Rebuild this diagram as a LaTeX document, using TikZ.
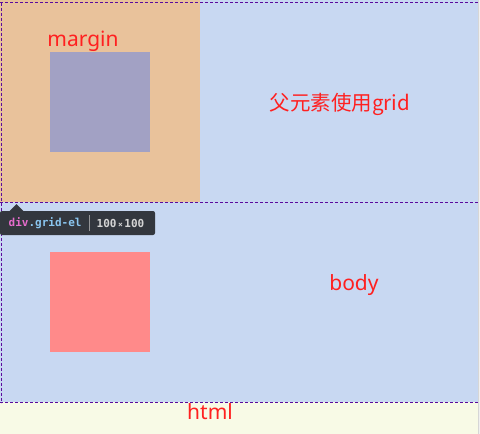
\documentclass[tikz,border=0pt]{standalone}
\usepackage{fontspec}
\setmainfont{Noto Sans}
\newfontfamily\cjkfont{Noto Sans CJK SC}
\newfontfamily\tipfont{DejaVu Sans Mono}
\definecolor{bodyblue}{HTML}{C8D8F2}
\definecolor{htmlyellow}{HTML}{F8FAE6}
\definecolor{marginorange}{HTML}{E9C29B}
\definecolor{innerpurple}{HTML}{A2A1C4}
\definecolor{boxred}{HTML}{FF8A8A}
\definecolor{labelred}{HTML}{FF2020}
\definecolor{dashpurple}{HTML}{5A0A9E}
\definecolor{tipbg}{HTML}{33373E}
\definecolor{tipmag}{HTML}{E56CCB}
\definecolor{tipblue}{HTML}{8AC6F0}
\definecolor{tipdim}{HTML}{D4D4D4}
\definecolor{scrollgray}{HTML}{D6D6D6}
\begin{document}
\begin{tikzpicture}[x=1pt,y=-1pt,
  lbl/.style={text=labelred,font=\fontsize{21}{23}\selectfont,inner sep=0pt},
  guide/.style={draw=dashpurple,line width=1.2pt,dash pattern=on 3pt off 2pt}]
\useasboundingbox (0,0) rectangle (480,434);
% html
\fill[htmlyellow] (0,0) rectangle (480,434);
% body
\fill[bodyblue] (0,0) rectangle (478,402);
% scrollbar edge
\fill[scrollgray] (478,0) rectangle (479,434);
\fill[white!94!black] (479,0) rectangle (480,434);
% grid element margin box
\fill[marginorange] (0,0) rectangle (200,202);
\fill[innerpurple] (50,52) rectangle (150,152);
% red box
\fill[boxred] (50,252) rectangle (150,352);
% dashed guides
\coordinate (tl) at (0,2.5);
\coordinate (tr) at (478,2.5);
\coordinate (ml) at (0,202.5);
\coordinate (mr) at (478,202.5);
\coordinate (bl) at (0,402.5);
\coordinate (br) at (478,402.5);
\coordinate (lt) at (1.5,2.5);
\coordinate (lb) at (1.5,402.5);
\draw[guide] (tl) -- (tr);
\draw[guide] (ml) -- (mr);
\draw[guide] (bl) -- (br);
\draw[guide] (lt) -- (lb);
% tooltip
\fill[tipbg,rounded corners=2pt] (0,211) rectangle (155,235);
\fill[tipbg] (9,211.5) -- (16.5,204) -- (24,211.5) -- cycle;
\node[anchor=west,inner sep=0pt,font=\tipfont\bfseries\fontsize{11}{12}\selectfont] (tipname) at (8.5,223)
  {\textcolor{tipmag}{div}\textcolor{tipblue}{.grid-el}};
\draw[tipdim!60!tipbg,line width=0.8pt] (89.5,215) -- (89.5,231);
\node[anchor=west,inner sep=0pt,text=tipdim,font=\tipfont\bfseries\fontsize{11}{12}\selectfont] (tipsize) at (96.5,223)
  {100{\fontsize{8}{9}\selectfont\hspace{1.5pt}×\hspace{1.5pt}}100};
% labels
\node[lbl] (margin) at (83,41) {margin};
\node[lbl,font=\cjkfont\fontsize{20.5}{23}\selectfont] (parent) at (340,104) {父元素使用grid};
\node[lbl] (body) at (354,285) {body};
\node[lbl] (html) at (210,412) {html};
\end{tikzpicture}
\end{document}
